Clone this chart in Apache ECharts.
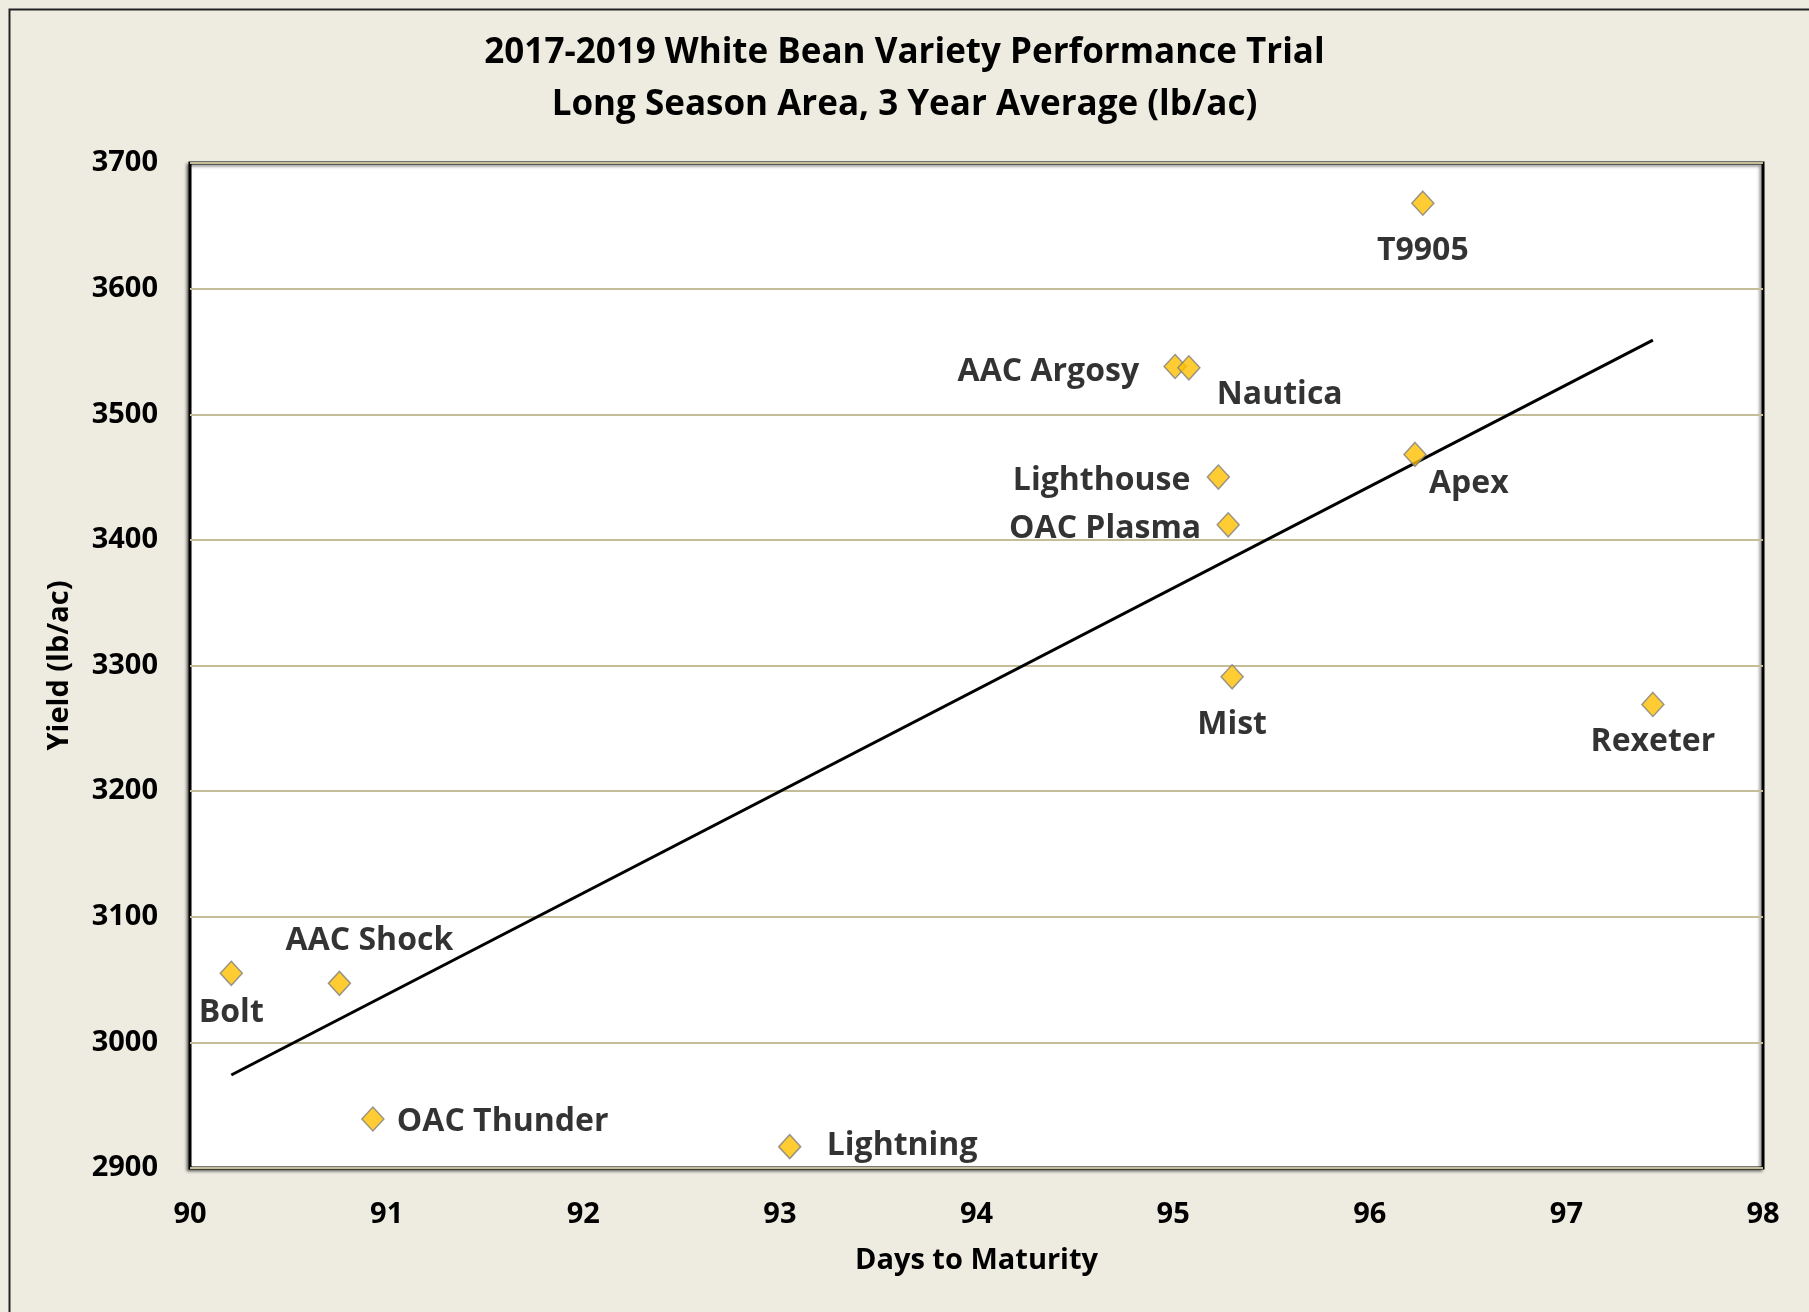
<!DOCTYPE html>
<html>
<head>
<meta charset="utf-8">
<title>White Bean Variety Performance Trial</title>
<script src="https://cdn.jsdelivr.net/npm/echarts@6/dist/echarts.min.js"></script>
<style>
    html, body {margin: 0; padding: 0; background: #EEECE1;}
    #chart {width: 1809px; height: 1312px;}
</style>
</head>
<body>
<div id="chart"></div>
<script>
// data
var varieties = ['T9905', 'AAC Argosy', 'Nautica', 'Lighthouse', 'OAC Plasma', 'Apex',
    'Mist', 'Rexeter', 'Bolt', 'AAC Shock', 'OAC Thunder', 'Lightning'];
var days = [96.27, 95.01, 95.08, 95.23, 95.28, 96.23, 95.30, 97.44, 90.21, 90.76, 90.93, 93.05];
var yields = [3668, 3538, 3537, 3450, 3412, 3468, 3291, 3269, 3055, 3047, 2939, 2917];

// linear trend line end points
var trendDays = [90.21, 97.44];
var trendYields = [2974, 3559];

// axis ranges
var xRange = [90, 98, 1];
var yRange = [2900, 3700, 100];

/**
 * where each point label sits: align, dx, dy (px from the marker centre)
 */
var labelPlace = {
    'T9905': ['center', 0, 48],
    'AAC Argosy': ['right', -36, 5],
    'Nautica': ['left', 28, 27],
    'Lighthouse': ['right', -28, 4],
    'OAC Plasma': ['right', -27, 4],
    'Apex': ['left', 14, 29],
    'Mist': ['center', 0, 48],
    'Rexeter': ['center', 0, 37],
    'Bolt': ['center', 0, 40],
    'AAC Shock': ['center', 30, -42],
    'OAC Thunder': ['left', 24, 3],
    'Lightning': ['left', 37, -1]
};

var font = "'Open Sans', 'Liberation Sans', sans-serif";

var points = [];
for (var i = 0; i < varieties.length; i++) {
    var p = labelPlace[varieties[i]];
    points.push({
        name: varieties[i],
        value: [days[i], yields[i]],
        label: {align: p[0], offset: [p[1], p[2]]}
    });
}

var trend = [];
for (var j = 0; j < trendDays.length; j++) {
    trend.push([trendDays[j], trendYields[j]]);
}

var option = {
    backgroundColor: '#EEECE1',
    animation: false,
    title: {
        text: '2017-2019 White Bean Variety Performance Trial\nLong Season Area, 3 Year Average (lb/ac)',
        left: 'center',
        top: 22,
        textStyle: {
            fontFamily: font,
            fontWeight: 'bold',
            fontSize: 35,
            lineHeight: 52,
            color: '#000'
        }
    },
    graphic: [{
        type: 'rect',
        left: 7,
        top: 7,
        shape: {width: 1840, height: 1340},
        style: {fill: null, stroke: '#222', lineWidth: 2},
        silent: true
    }],
    grid: {
        left: 190,
        right: 46,
        top: 163,
        bottom: 144,
        containLabel: false,
        show: true,
        backgroundColor: '#fff',
        borderColor: '#000',
        borderWidth: 3,
        shadowColor: 'rgba(0,0,0,0.45)',
        shadowBlur: 3,
        shadowOffsetX: -2,
        shadowOffsetY: 2
    },
    xAxis: {
        type: 'value',
        min: xRange[0],
        max: xRange[1],
        interval: xRange[2],
        name: 'Days to Maturity',
        nameLocation: 'middle',
        nameGap: 78,
        nameTextStyle: {fontFamily: font, fontWeight: 'bold', fontSize: 29, color: '#000'},
        axisLine: {show: false},
        axisTick: {show: false},
        splitLine: {show: false},
        axisLabel: {fontFamily: font, fontWeight: 'bold', fontSize: 29, color: '#000', margin: 32}
    },
    yAxis: {
        type: 'value',
        min: yRange[0],
        max: yRange[1],
        interval: yRange[2],
        name: 'Yield (lb/ac)',
        nameLocation: 'middle',
        nameRotate: 90,
        nameGap: 116,
        nameTextStyle: {fontFamily: font, fontWeight: 'bold', fontSize: 29, color: '#000'},
        axisLine: {show: false},
        axisTick: {show: false},
        splitLine: {show: true, lineStyle: {color: '#C4BD97', width: 2}},
        axisLabel: {
            fontFamily: font, fontWeight: 'bold', fontSize: 29, color: '#000', margin: 32,
            formatter: function (v) { return String(v); }
        }
    },
    series: [
        {
            name: 'Trend',
            type: 'line',
            data: trend,
            symbol: 'none',
            lineStyle: {color: '#000', width: 3},
            z: 2
        },
        {
            name: 'Varieties',
            type: 'scatter',
            data: points,
            symbol: 'diamond',
            symbolSize: [22, 24],
            itemStyle: {color: '#FFC000', borderColor: '#7F7F7F', borderWidth: 1.5},
            label: {
                show: true,
                position: 'inside',
                verticalAlign: 'middle',
                formatter: '{b}',
                fontFamily: font,
                fontWeight: 'bold',
                fontSize: 32,
                color: '#000'
            },
            z: 3
        }
    ]
};

var myChart = echarts.init(document.getElementById('chart'));
myChart.setOption(option);
</script>
</body>
</html>
